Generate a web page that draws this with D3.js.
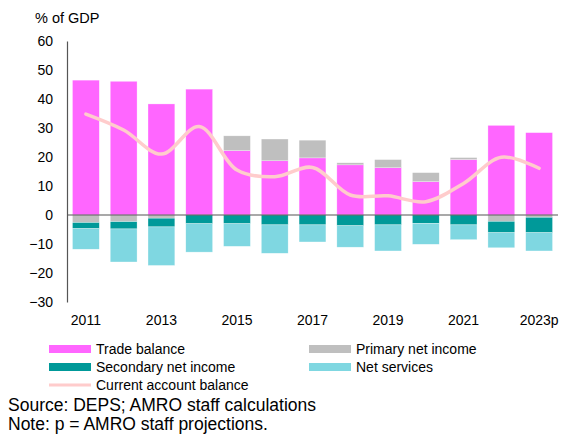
<!DOCTYPE html>
<html>
<head>
<meta charset="utf-8">
<script src="https://cdn.jsdelivr.net/npm/d3@7"></script>
<style>
  body { margin: 0; background: #fff; }
  svg text { font-family: "Liberation Sans", Arial, sans-serif; fill: #000; }
</style>
</head>
<body>
<div id="chart"></div>
<script>
const years = ["2011", "2012", "2013", "2014", "2015", "2016", "2017", "2018", "2019", "2020", "2021", "2022", "2023p"];
const tradeBalance = [46.5, 46.1, 38.3, 43.4, 22.2, 18.7, 19.7, 17.3, 16.3, 11.5, 19.1, 30.9, 28.4];
const primaryIncome = [-2.6, -2.3, -1.1, 0, 5.1, 7.5, 6.1, 0.7, 2.8, 3.1, 0.7, -2.2, -0.8];
const secondaryIncome = [-2.1, -2.5, -3.0, -3.0, -3.0, -3.4, -3.4, -3.7, -3.4, -2.9, -3.4, -3.9, -5.3];
const netServices = [-7.1, -11.4, -13.3, -9.8, -7.8, -9.8, -5.9, -7.4, -9.0, -7.2, -5.1, -5.2, -6.3];
const currentAccount = [34.8, 29.3, 21.0, 30.5, 15.5, 13.2, 16.4, 6.9, 6.6, 4.6, 10.9, 19.9, 16.1];
const yTicks = [60, 50, 40, 30, 20, 10, 0, -10, -20, -30];
const xLabels = ["2011", "2013", "2015", "2017", "2019", "2021", "2023p"];

const series = [
  { name: "Trade balance", values: tradeBalance, color: "#FF66FF" },
  { name: "Primary net income", values: primaryIncome, color: "#BFBFBF" },
  { name: "Secondary net income", values: secondaryIncome, color: "#009999" },
  { name: "Net services", values: netServices, color: "#7FD7E1" }
];

const width = 561, height = 434;
const svg = d3.select("#chart").append("svg")
  .attr("width", width).attr("height", height);

const x = d3.scaleBand().domain(years).range([67, 558]).paddingInner(0.29).paddingOuter(0.145);
const y = d3.scaleLinear().domain([-30, 60]).range([302, 41]);

// stack positives up and negatives down
const segments = [];
years.forEach((yr, i) => {
  let pos = 0, neg = 0;
  series.forEach(s => {
    const v = s.values[i];
    if (v >= 0) { segments.push({ yr, y0: pos, y1: pos + v, color: s.color }); pos += v; }
    else { segments.push({ yr, y0: neg + v, y1: neg, color: s.color }); neg += v; }
  });
});

svg.append("g").selectAll("rect").data(segments).enter().append("rect")
  .attr("x", d => x(d.yr))
  .attr("width", x.bandwidth())
  .attr("y", d => y(d.y1))
  .attr("height", d => y(d.y0) - y(d.y1))
  .attr("fill", d => d.color)
  .attr("stroke", "#fff").attr("stroke-opacity", 0.6).attr("stroke-width", 0.5);

// zero line
svg.append("line")
  .attr("x1", 67).attr("x2", 558)
  .attr("y1", y(0)).attr("y2", y(0))
  .attr("stroke", "#555").attr("stroke-width", 1.2);

// y axis
const yAxis = svg.append("g").attr("transform", "translate(67,0)")
  .call(d3.axisLeft(y).tickValues(yTicks).tickSize(0).tickPadding(14));
yAxis.select(".domain").attr("stroke", "#555").attr("stroke-width", 1.2);
yAxis.selectAll("text").style("font-size", "14px").attr("fill", "#000");

// x labels
svg.append("g").selectAll("text").data(xLabels).enter().append("text")
  .attr("x", d => x(d) + x.bandwidth() / 2)
  .attr("y", 325)
  .attr("text-anchor", "middle")
  .style("font-size", "14px")
  .text(d => d);

// current account line
const line = d3.line()
  .x((d, i) => x(years[i]) + x.bandwidth() / 2)
  .y(d => y(d))
  .curve(d3.curveCatmullRom);
svg.append("path").datum(currentAccount)
  .attr("d", line)
  .attr("fill", "none")
  .attr("stroke", "#FFCCCC")
  .attr("stroke-width", 3.5)
  .attr("stroke-linecap", "round");

// title
svg.append("text").attr("x", 35).attr("y", 23).style("font-size", "14.5px").text("% of GDP");

// legend
const legendItems = [
  { name: "Trade balance", color: "#FF66FF", lx: 49, ly: 349, h: 8 },
  { name: "Primary net income", color: "#BFBFBF", lx: 309, ly: 349, h: 8 },
  { name: "Secondary net income", color: "#009999", lx: 49, ly: 367, h: 8 },
  { name: "Net services", color: "#7FD7E1", lx: 309, ly: 367, h: 8 },
  { name: "Current account balance", color: "#FFCCCC", lx: 49, ly: 385, h: 3 }
];
const lg = svg.append("g").selectAll("g").data(legendItems).enter().append("g");
lg.append("rect")
  .attr("x", d => d.lx).attr("y", d => d.ly - d.h / 2)
  .attr("width", 42).attr("height", d => d.h)
  .attr("fill", d => d.color);
lg.append("text")
  .attr("x", d => d.lx + 47).attr("y", d => d.ly + 5)
  .style("font-size", "14px")
  .text(d => d.name);

// footnotes
svg.append("text").attr("x", 8).attr("y", 411).style("font-size", "17.5px").text("Source: DEPS; AMRO staff calculations");
svg.append("text").attr("x", 8).attr("y", 430).style("font-size", "17.5px").text("Note: p = AMRO staff projections.");
</script>
</body>
</html>
